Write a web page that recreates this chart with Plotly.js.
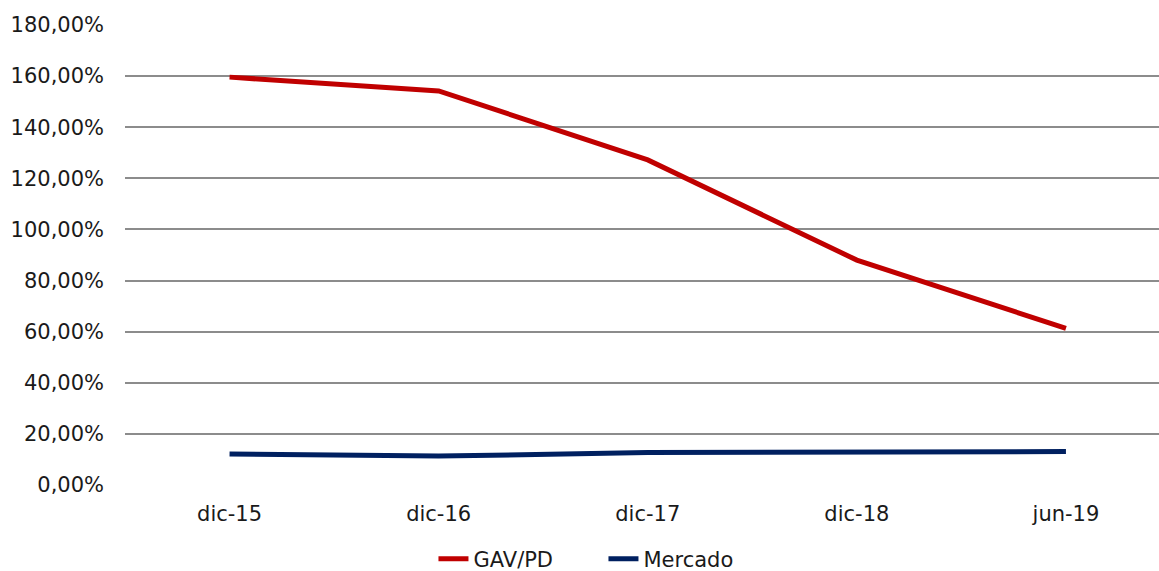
<!DOCTYPE html>
<html>
<head>
<meta charset="utf-8">
<script src="https://cdn.plot.ly/plotly-3.0.1.min.js"></script>
<style>html,body{margin:0;padding:0;background:#fff;}#chart{width:1159px;height:571px;}</style>
</head>
<body>
<div id="chart"></div>
<script>
const categories = ["dic-15", "dic-16", "dic-17", "dic-18", "jun-19"];
const gavPd = [159.6, 154.2, 127.2, 88.0, 61.3];
const mercado = [12.1, 11.3, 12.7, 12.9, 13.1];
const yTicks = [0, 20, 40, 60, 80, 100, 120, 140, 160, 180];
const yTickText = ["0,00%", "20,00%", "40,00%", "60,00%", "80,00%", "100,00%", "120,00%", "140,00%", "160,00%", "180,00%"];

const font = {family: "DejaVu Sans, Verdana, sans-serif", size: 21, color: "#1a1a1a"};

const traces = [
  {x: categories, y: gavPd, name: "GAV/PD", type: "scatter", mode: "lines",
   line: {color: "#C00000", width: 5}},
  {x: categories, y: mercado, name: "Mercado", type: "scatter", mode: "lines",
   line: {color: "#002060", width: 5}}
];

const layout = {
  width: 1159, height: 571,
  margin: {l: 125, r: 0, t: 25, b: 86, autoexpand: false},
  paper_bgcolor: "#fff", plot_bgcolor: "#fff",
  font: font,
  showlegend: true,
  hovermode: false,
  legend: {orientation: "h", xref: "container", yref: "container",
           x: 0.374, xanchor: "left", y: 0.021, yanchor: "middle",
           font: font, entrywidth: 125, entrywidthmode: "pixels"},
  xaxis: {type: "category", range: [-0.5, 4.445], showgrid: false, zeroline: false,
          showline: false, ticks: "", ticklabelstandoff: 14, tickfont: font,
          fixedrange: true, automargin: false},
  yaxis: {range: [0, 180], tickmode: "array", tickvals: yTicks, ticktext: yTickText,
          showgrid: true, gridcolor: "#8c8c8c", gridwidth: 2, zeroline: false,
          showline: false, ticks: "", ticklabelstandoff: 20, tickfont: font,
          fixedrange: true, automargin: false}
};

Plotly.newPlot("chart", traces, layout, {displayModeBar: false, staticPlot: true});
</script>
</body>
</html>
